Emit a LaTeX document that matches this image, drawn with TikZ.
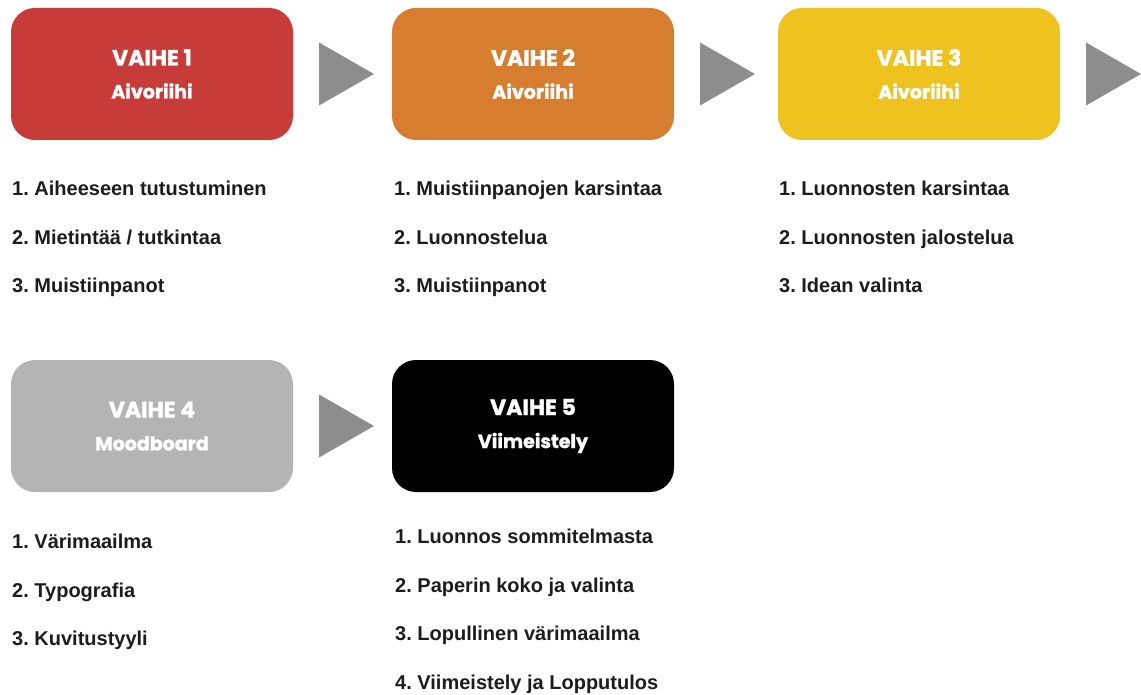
\documentclass[tikz,border=0pt]{standalone}
\usepackage{fontspec}
\setmainfont{Liberation Sans}
\newfontfamily\otsikko{Poppins}[BoldFeatures={FakeBold=1.5}]
\usepackage{tikz}
\definecolor{punainen}{HTML}{C73B38}
\definecolor{oranssi}{HTML}{D77D2F}
\definecolor{keltainen}{HTML}{EEC31F}
\definecolor{harmaa}{HTML}{B4B4B4}
\definecolor{nuolenharmaa}{HTML}{8D8D8D}
\definecolor{teksti}{HTML}{1C1C1C}
\frenchspacing
\tikzset{
  vaihe/.style={rounded corners=24pt, minimum width=282pt, minimum height=132pt,
    text=white, align=center, font=\otsikko\bfseries\fontsize{22}{33}\selectfont},
  kohta/.style={anchor=base west, inner sep=0pt, text=teksti,
    font=\bfseries\fontsize{20}{24}\selectfont}}
\newcommand{\vaihe}[6]{%
  \node[vaihe, fill=#4] (#1) at (#2,#3)
    {VAIHE #5\\{\fontsize{19}{33}\selectfont #6}};}
\newcommand{\nuoli}[2]{\fill[nuolenharmaa] (#1,#2-31.5) -- (#1+55,#2) -- (#1,#2+31.5) -- cycle;}
\newcommand{\kohta}[4]{\node[kohta] (#1) at (#2,#3) {#4};}

\begin{document}
\begin{tikzpicture}[x=1pt, y=-1pt]
  \useasboundingbox (0,0) rectangle (1141,695);
  \vaihe{v1}{152}{74}{punainen}{1}{Aivoriihi}
  \vaihe{v2}{533}{74}{oranssi}{2}{Aivoriihi}
  \vaihe{v3}{919}{74}{keltainen}{3}{Aivoriihi}
  \vaihe{v4}{152}{426}{harmaa}{4}{Moodboard}
  \vaihe{v5}{533}{426}{black}{5}{Viimeistely}
  \nuoli{319}{74} \nuoli{700}{74} \nuoli{1086}{74}
  \nuoli{319}{426}
  \kohta{k11}{12}{196}{1. Aiheeseen tutustuminen}
  \kohta{k12}{12}{245}{2. Mietintää / tutkintaa}
  \kohta{k13}{12}{293}{3. Muistiinpanot}
  \kohta{k21}{394}{196}{1. Muistiinpanojen karsintaa}
  \kohta{k22}{394}{245}{2. Luonnostelua}
  \kohta{k23}{394}{293}{3. Muistiinpanot}
  \kohta{k31}{779}{196}{1. Luonnosten karsintaa}
  \kohta{k32}{779}{245}{2. Luonnosten jalostelua}
  \kohta{k33}{779}{293}{3. Idean valinta}
  \kohta{k41}{12}{548}{1. Värimaailma}
  \kohta{k42}{12}{597}{2. Typografia}
  \kohta{k43}{12}{645}{3. Kuvitustyyli}
  \kohta{k51}{395}{543}{1. Luonnos sommitelmasta}
  \kohta{k52}{395}{592}{2. Paperin koko ja valinta}
  \kohta{k53}{395}{640}{3. Lopullinen värimaailma}
  \kohta{k54}{395}{689}{4. Viimeistely ja Lopputulos}
\end{tikzpicture}
\end{document}
